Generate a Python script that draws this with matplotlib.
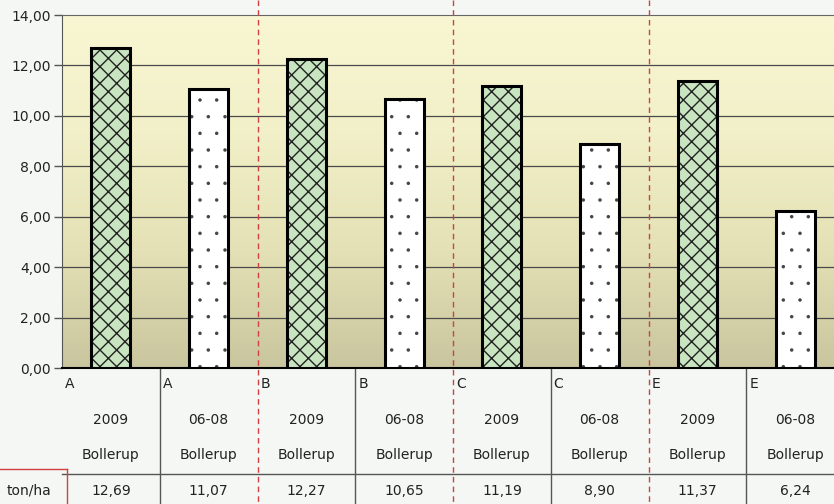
import numpy as np
import matplotlib
matplotlib.use('Agg')
import matplotlib.pyplot as plt
import matplotlib.transforms as mtransforms
from matplotlib.colors import LinearSegmentedColormap
from matplotlib.patches import Rectangle

plt.rcParams['font.family'] = 'DejaVu Sans'

# data
groups = ['A', 'A', 'B', 'B', 'C', 'C', 'E', 'E']
periods = ['2009', '06-08', '2009', '06-08', '2009', '06-08', '2009', '06-08']
sites = ['Bollerup'] * 8
values = [12.69, 11.07, 12.27, 10.65, 11.19, 8.90, 11.37, 6.24]
value_labels = ['12,69', '11,07', '12,27', '10,65', '11,19', '8,90', '11,37', '6,24']
yticks = [0, 2, 4, 6, 8, 10, 12, 14]
row_label = 'ton/ha'

W, H = 834, 504
fig = plt.figure(figsize=(W / 100, H / 100), dpi=100)
fig.patch.set_facecolor('#f4f7f3')

# plot area in pixels: x 62..844 (runs off the right edge), y 15..368
ax = fig.add_axes([62 / W, (H - 368) / H, (844 - 62) / W, (368 - 15) / H])
ax.set_xlim(-0.5, 7.5)
ax.set_ylim(0, 14)

# gradient background
cmap = LinearSegmentedColormap.from_list('bg', ['#c9c59e', '#e4e1b6', '#f2f0c8', '#f9f7d3'])
grad = np.linspace(0, 1, 256).reshape(-1, 1)
ax.imshow(grad, extent=(-0.5, 7.5, 0, 14), origin='lower', aspect='auto',
          cmap=cmap, zorder=0)

for yv in yticks[1:-1]:
    ax.axhline(yv, color='#4a4a4a', lw=0.9, zorder=1)

x = np.arange(len(values))
for i, v in enumerate(values):
    if periods[i] == '2009':
        plt.rcParams['hatch.linewidth'] = 1.0
        ax.bar(x[i], v, width=0.4, color='#c8e4c0', edgecolor='#222222',
               hatch='xx', lw=0, zorder=3)
    else:
        plt.rcParams['hatch.linewidth'] = 0.1
        ax.bar(x[i], v, width=0.4, color='white', edgecolor='#444444',
               hatch='.', lw=0, zorder=3)

# clean outline over hatches
for i, v in enumerate(values):
    ax.add_patch(Rectangle((x[i] - 0.2, 0), 0.4, v, fill=False,
                           edgecolor='black', lw=2.2, zorder=4))

ax.set_yticks(yticks)
ax.set_yticklabels(['%d,00' % t for t in yticks], fontsize=10, color='#222222')
ax.tick_params(axis='y', length=6, width=1, color='#555555', pad=2)
ax.set_xticks([])
ax.spines['right'].set_visible(False)
ax.spines['left'].set_color('#555555')
ax.spines['top'].set_color('#666666')
ax.spines['bottom'].set_color('black')
ax.spines['bottom'].set_linewidth(1.5)

# table under the plot
tr = mtransforms.blended_transform_factory(ax.transData, fig.transFigure)


def fy(py):
    return 1 - py / H


txt = dict(transform=tr, fontsize=10, va='center', clip_on=False, color='#222222')
for i in range(len(values)):
    ax.text(x[i] - 0.47, fy(384), groups[i], ha='left', **txt)
    ax.text(x[i], fy(420), periods[i], ha='center', **txt)
    ax.text(x[i], fy(455), sites[i], ha='center', **txt)
    ax.text(x[i], fy(491), value_labels[i], ha='center', **txt)

for b in np.arange(0.5, 7.5, 1.0):
    if b in (1.5, 3.5, 5.5):
        continue
    ax.plot([b, b], [fy(368), fy(H)], transform=tr, color='#555555', lw=1,
            clip_on=False)
ax.plot([-0.5, 7.5], [fy(474), fy(474)], transform=tr, color='#555555', lw=1,
        clip_on=False)

# red dashed separators between groups
for b in (1.5, 3.5, 5.5):
    ax.plot([b, b], [1, fy(H)], transform=tr, color='#d04040', lw=1,
            ls=(0, (4, 3)), clip_on=False, zorder=5)

# row label with red box
fig.add_artist(plt.Line2D([0, 67 / W], [fy(469), fy(469)], color='#d04040', lw=1))
fig.add_artist(plt.Line2D([67 / W, 67 / W], [fy(469), 0], color='#d04040', lw=1))
fig.text(51 / W, fy(491), row_label, fontsize=10, ha='right', va='center',
         color='#222222')

fig.savefig('out.png', dpi=100, facecolor=fig.get_facecolor())
